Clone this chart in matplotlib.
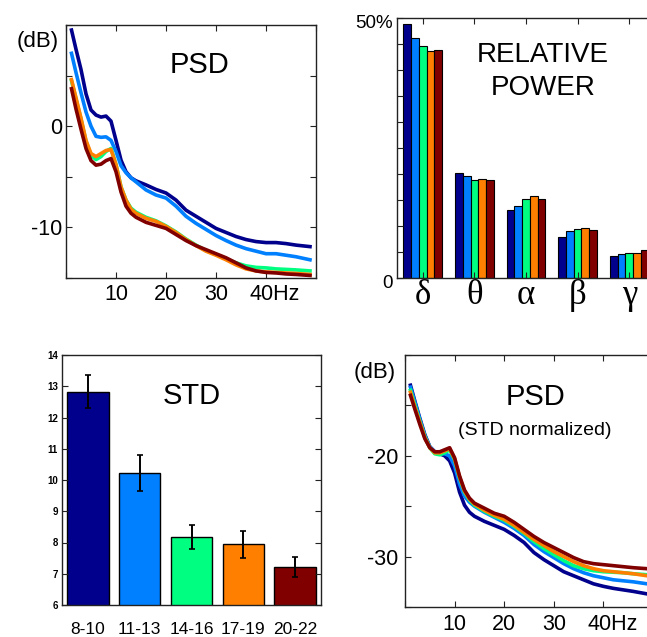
import matplotlib
matplotlib.use('Agg')
import matplotlib.pyplot as plt
from matplotlib.transforms import ScaledTranslation

plt.rcParams['font.family'] = ['Liberation Sans', 'DejaVu Sans']

# ---------------- data ----------------
group_names = ['8-10', '11-13', '14-16', '17-19', '20-22']
colors = ['#00008c', '#0080ff', '#00ff80', '#ff8000', '#800000']

freqs = [1.1, 2, 3, 4, 5, 6, 7, 8, 9, 10, 11, 12, 13, 14, 16, 18, 20, 22, 24, 26,
         28, 30, 32, 34, 36, 38, 40, 42, 44, 46, 48.8]

# Top-left: PSD (dB)
psd_8_10 = [9.5, 7.6, 5.6, 3.2, 1.6, 1.1, 0.9, 1.0, 0.5, -1.4, -3.35, -4.5, -5.1, -5.4, -5.8,
            -6.25, -6.6, -7.3, -8.3, -8.9, -9.5, -10.1, -10.5, -10.9, -11.2, -11.4, -11.5,
            -11.5, -11.6, -11.75, -11.9]
psd_11_13 = [7.2, 5.3, 3.3, 1.4, 0.0, -1.0, -1.1, -1.05, -1.4, -2.5, -3.9, -4.6, -5.1, -5.5,
             -6.3, -6.8, -7.1, -7.9, -8.9, -9.6, -10.2, -10.8, -11.3, -11.75, -12.1, -12.35,
             -12.6, -12.6, -12.75, -12.9, -13.2]
psd_14_16 = [4.5, 2.7, 0.7, -1.5, -2.9, -3.3, -3.0, -2.5, -2.2, -3.8, -6.0, -7.3, -8.1, -8.5,
             -9.0, -9.35, -9.85, -10.45, -11.15, -11.75, -12.3, -12.7, -13.1, -13.5, -13.8,
             -13.95, -14.0, -14.1, -14.15, -14.2, -14.3]
psd_17_19 = [4.6, 2.8, 0.8, -1.4, -2.7, -3.0, -2.7, -2.4, -2.3, -3.8, -6.0, -7.3, -8.2, -8.6,
             -9.1, -9.4, -9.9, -10.5, -11.2, -11.8, -12.35, -12.75, -13.2, -13.7, -14.1,
             -14.3, -14.4, -14.45, -14.5, -14.55, -14.65]
psd_20_22 = [3.7, 1.7, -0.3, -2.2, -3.4, -3.85, -3.75, -3.4, -3.2, -4.5, -6.5, -7.9, -8.6,
             -9.0, -9.5, -9.8, -10.1, -10.7, -11.3, -11.8, -12.2, -12.6, -13.0, -13.5, -14.0,
             -14.3, -14.45, -14.5, -14.6, -14.65, -14.75]
psd_raw = [psd_8_10, psd_11_13, psd_14_16, psd_17_19, psd_20_22]

# Bottom-right: PSD after STD normalization (dB)
norm_8_10 = [-13.0, -14.6, -16.3, -17.9, -19.1, -19.6, -19.8, -20.0, -20.5, -21.7, -23.6,
             -24.9, -25.6, -26.0, -26.5, -26.9, -27.3, -27.9, -28.6, -29.6, -30.3, -30.9,
             -31.5, -31.9, -32.3, -32.7, -32.95, -33.15, -33.3, -33.45, -33.7]
norm_11_13 = [-13.2, -14.7, -16.4, -18.0, -19.1, -19.6, -19.8, -19.8, -20.0, -21.0, -22.8,
              -24.0, -24.6, -25.0, -25.6, -26.1, -26.6, -27.2, -27.9, -28.8, -29.5, -30.1,
              -30.7, -31.2, -31.6, -31.9, -32.1, -32.3, -32.4, -32.5, -32.7]
norm_14_16 = [-13.5, -15.0, -16.6, -18.1, -19.2, -19.8, -19.9, -19.7, -19.4, -20.4, -22.2,
              -23.6, -24.4, -24.9, -25.5, -26.0, -26.4, -27.0, -27.7, -28.5, -29.2, -29.8,
              -30.4, -30.9, -31.2, -31.4, -31.5, -31.55, -31.6, -31.7, -31.8]
norm_17_19 = [-13.7, -15.2, -16.7, -18.2, -19.2, -19.7, -19.7, -19.5, -19.3, -20.3, -22.1,
              -23.5, -24.3, -24.8, -25.4, -25.9, -26.3, -26.9, -27.6, -28.3, -28.9, -29.5,
              -30.0, -30.5, -30.9, -31.2, -31.4, -31.5, -31.6, -31.7, -31.9]
norm_20_22 = [-14.0, -15.4, -16.9, -18.3, -19.2, -19.6, -19.6, -19.4, -19.2, -20.2, -22.0,
              -23.4, -24.2, -24.7, -25.2, -25.7, -26.0, -26.6, -27.3, -28.0, -28.6, -29.1,
              -29.6, -30.1, -30.5, -30.7, -30.8, -30.9, -31.0, -31.1, -31.2]
psd_norm = [norm_8_10, norm_11_13, norm_14_16, norm_17_19, norm_20_22]

# Top-right: relative power (%) per band, one list per age group
bands = ['δ', 'θ', 'α', 'β', 'γ']
rel_8_10 = [48.9, 20.2, 13.1, 7.8, 4.2]
rel_11_13 = [46.2, 19.6, 13.9, 9.0, 4.55]
rel_14_16 = [44.6, 18.9, 15.2, 9.4, 4.9]
rel_17_19 = [43.6, 19.1, 15.7, 9.55, 4.9]
rel_20_22 = [43.8, 18.9, 15.2, 9.3, 5.3]
rel_power = [rel_8_10, rel_11_13, rel_14_16, rel_17_19, rel_20_22]

# Bottom-left: STD per group
std_mean = [12.83, 10.23, 8.17, 7.95, 7.23]
std_err = [0.54, 0.57, 0.38, 0.43, 0.32]

# ---------------- figure ----------------
W, H = 647, 637
fig = plt.figure(figsize=(W / 100, H / 100), dpi=100)


def add_ax(l, t, r, b):
    return fig.add_axes([l / W, 1 - b / H, (r - l) / W, (b - t) / H])


def style(ax, pad=3, size=15.5):
    for s in ax.spines.values():
        s.set_linewidth(1.0)
        s.set_color('#222222')
    ax.tick_params(direction='in', top=True, right=True, length=4, width=0.8,
                   labelsize=size, pad=pad, colors='#222222', labelcolor='black')


def shift_label(lbl, dx_px, dy_px=0):
    lbl.set_transform(lbl.get_transform() +
                      ScaledTranslation(dx_px / 100, dy_px / 100, fig.dpi_scale_trans))


# ---- Top-left: PSD ----
ax1 = add_ax(66, 25, 316, 278)
for vals, c in zip(psd_raw, colors):
    ax1.plot(freqs, vals, color=c, lw=2.6, solid_joinstyle='round')
ax1.set_xlim(0, 50)
ax1.set_ylim(-15, 10)
ax1.set_xticks([0, 10, 20, 30, 40, 50])
ax1.set_xticklabels(['', '10', '20', '30', '40Hz', ''])
ax1.set_yticks([-15, -10, -5, 0, 5, 10])
ax1.set_yticklabels(['', '-10', '', '0', '', ''])
style(ax1)
ax1.tick_params(axis='x', pad=4)
shift_label(ax1.get_xticklabels()[4], 9)
ax1.text(0.535, 0.84, 'PSD', transform=ax1.transAxes, ha='center', va='center', fontsize=21)
fig.text(38 / W, 1 - 42 / H, '(dB)', ha='center', va='center', fontsize=16)

# ---- Top-right: relative power ----
ax2 = add_ax(397, 18, 655, 278)
bw = 0.15
gx = [1, 2, 3, 4, 5]
for i, (vals, c) in enumerate(zip(rel_power, colors)):
    ax2.bar([g + (i - 2) * bw for g in gx], vals, width=bw, color=c,
            edgecolor='black', linewidth=0.8)
ax2.set_xlim(0.5, 5.5)
ax2.set_ylim(0, 50)
ax2.set_xticks(gx)
ax2.set_xticklabels(bands, fontfamily=['Liberation Serif', 'DejaVu Serif'])
ax2.set_yticks(list(range(0, 51, 5)))
ax2.set_yticklabels(['0'] + [''] * 9 + ['50%'])
style(ax2, size=13.5)
ax2.tick_params(axis='x', labelsize=25, pad=1)
for lbl in ax2.get_yticklabels():
    shift_label(lbl, 0, -4)
ax2.text(0.565, 0.795, 'RELATIVE\nPOWER', transform=ax2.transAxes, ha='center', va='center',
         fontsize=20, linespacing=1.38)

# ---- Bottom-left: STD ----
ax3 = add_ax(62, 355, 321, 605)
ax3.bar(gx, std_mean, width=0.8, color=colors, edgecolor='black', linewidth=1.0)
ax3.errorbar(gx, std_mean, yerr=std_err, fmt='none', ecolor='black', elinewidth=1.4,
             capsize=2.5, capthick=1.2)
ax3.set_xlim(0.5, 5.5)
ax3.set_ylim(6, 14)
ax3.set_xticks(gx)
ax3.set_xticklabels(group_names)
ax3.set_yticks(list(range(6, 15)))
style(ax3, size=7)
ax3.tick_params(axis='x', labelsize=12.5, pad=12, top=False, length=0)
for lbl in ax3.get_yticklabels():
    lbl.set_fontweight('bold')
ax3.text(0.5, 0.835, 'STD', transform=ax3.transAxes, ha='center', va='center', fontsize=21)

# ---- Bottom-right: normalized PSD ----
ax4 = add_ax(405, 355, 653, 607)
for vals, c in zip(psd_norm, colors):
    ax4.plot(freqs, vals, color=c, lw=2.6, solid_joinstyle='round')
ax4.set_xlim(0, 50)
ax4.set_ylim(-35, -10)
ax4.set_xticks([0, 10, 20, 30, 40, 50])
ax4.set_xticklabels(['', '10', '20', '30', '40Hz', ''])
ax4.set_yticks([-35, -30, -25, -20, -15, -10])
ax4.set_yticklabels(['', '-30', '', '-20', '', ''])
style(ax4, pad=5)
ax4.tick_params(axis='x', pad=5)
shift_label(ax4.get_xticklabels()[4], 9)
ax4.text(0.525, 0.835, 'PSD', transform=ax4.transAxes, ha='center', va='center', fontsize=21)
ax4.text(0.525, 0.70, '(STD normalized)', transform=ax4.transAxes, ha='center', va='center',
         fontsize=14)
fig.text(375 / W, 1 - 373 / H, '(dB)', ha='center', va='center', fontsize=16)

fig.savefig('out.png', dpi=100)
